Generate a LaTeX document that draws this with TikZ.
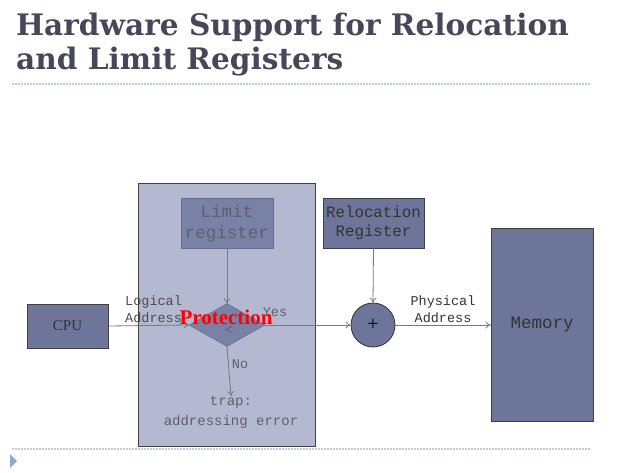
\documentclass[tikz,border=0pt]{standalone}
\usepackage{fontspec}
\setmainfont{Liberation Serif}
\setmonofont{Liberation Mono}
\newfontfamily\titlefont{DejaVu Serif}
\usetikzlibrary{shapes.geometric,arrows.meta}
\definecolor{boxblue}{RGB}{110,117,155}
\definecolor{innerblue}{RGB}{122,129,166}
\definecolor{protbg}{RGB}{180,184,208}
\definecolor{titlecol}{RGB}{70,72,90}
\definecolor{dotcol}{RGB}{190,205,225}
\definecolor{linecol}{RGB}{120,120,125}
\definecolor{dimtext}{RGB}{95,95,110}
\definecolor{tricol}{RGB}{140,170,205}
\tikzset{
  regbox/.style={draw=black!75, line width=0.8pt, fill=boxblue, font=\ttfamily\fontsize{15.8}{19}\selectfont, text=black!80, align=center, inner sep=0pt},
  innerbox/.style={draw=innerblue!85!black, line width=0.8pt, fill=innerblue, font=\ttfamily\fontsize{17.5}{21}\selectfont, text=dimtext, align=center, inner sep=0pt},
  conn/.style={draw=linecol, line width=0.8pt, -{To[length=5pt,width=7pt]}},
  lbl/.style={font=\ttfamily\fontsize{13.5}{17}\selectfont, align=center, inner sep=0pt},
  dotline/.style={draw=dotcol, line width=1.6pt, dash pattern=on 1.6pt off 1.4pt}
}
\begin{document}
\begin{tikzpicture}[x=1pt,y=-1pt]
\useasboundingbox (0,0) rectangle (624,473);
% title
\node[anchor=base west, inner sep=0pt, text=titlecol, font=\titlefont\bfseries\fontsize{29.6}{34}\selectfont] (t1) at (16,36) {Hardware Support for Relocation};
\node[anchor=base west, inner sep=0pt, text=titlecol, font=\titlefont\bfseries\fontsize{29.6}{34}\selectfont] (t2) at (16,70) {and Limit Registers};
\coordinate (d1a) at (12,84); \coordinate (d1b) at (590,84);
\draw[dotline] (d1a) -- (d1b);
\coordinate (d2a) at (12,449); \coordinate (d2b) at (590,449);
\draw[dotline] (d2a) -- (d2b);
\fill[tricol] (10,454) -- (17,461) -- (10,468) -- cycle;
% protection box
\node[draw=black!75, line width=1pt, fill=protbg, minimum width=177pt, minimum height=263pt, inner sep=0pt, anchor=north west] (prot) at (138,183) {};
% limit register
\node[innerbox, minimum width=92pt, minimum height=50pt] (limit) at (227,223) {Limit\\register};
% diamond
\node[diamond, draw=innerblue!80!black, fill=innerblue, minimum width=76pt, minimum height=43pt, inner sep=0pt, aspect=1.8] (cmp) at (227,325) {};
\node[font=\ttfamily\fontsize{14}{16}\selectfont, text=dimtext, inner sep=0pt] (lt) at (229,330) {<};
% CPU
\node[regbox, font=\rmfamily\fontsize{15}{18}\selectfont, minimum width=81pt, minimum height=44pt] (cpu) at (67.5,326) {CPU};
% relocation register
\node[regbox, minimum width=101pt, minimum height=50pt] (reloc) at (373.5,223) {Relocation\\Register};
% adder
\node[circle, draw=black!80, line width=0.8pt, fill=boxblue, minimum size=44pt, inner sep=0pt, font=\fontsize{20}{20}\selectfont] (add) at (373,325) {+};
% memory
\node[regbox, font=\ttfamily\fontsize{17.5}{20}\selectfont, minimum width=102pt, minimum height=193pt] (mem) at (542,324.5) {Memory};
% trap
\node[lbl, font=\ttfamily\fontsize{14}{20}\selectfont, text=dimtext, anchor=north] (trap) at (231,396) {trap:\\addressing error};
% connectors
\draw[conn] (cpu.east) -- (cmp.west);
\draw[conn] (limit.south) -- (cmp.north);
\draw[conn] (cmp.east) -- (add.west);
\draw[conn] (reloc.south) -- (add.north);
\draw[conn] (add.east) -- (mem.west |- add.east);
\draw[conn] (cmp.south) -- (trap.north);
% labels
\node[lbl, text=black!70, anchor=west, align=left] (logical) at (125,309) {Logical\\Address};
\node[lbl, text=dimtext] (yes) at (275,312) {Yes};
\node[lbl, text=dimtext] (no) at (240,364) {No};
\node[lbl, text=black!80] (phys) at (443,309) {Physical\\Address};
% protection label
\node[text=red, font=\rmfamily\bfseries\fontsize{21}{21}\selectfont, inner sep=0pt] (protlbl) at (226,317) {Protection};
\end{tikzpicture}
\end{document}
